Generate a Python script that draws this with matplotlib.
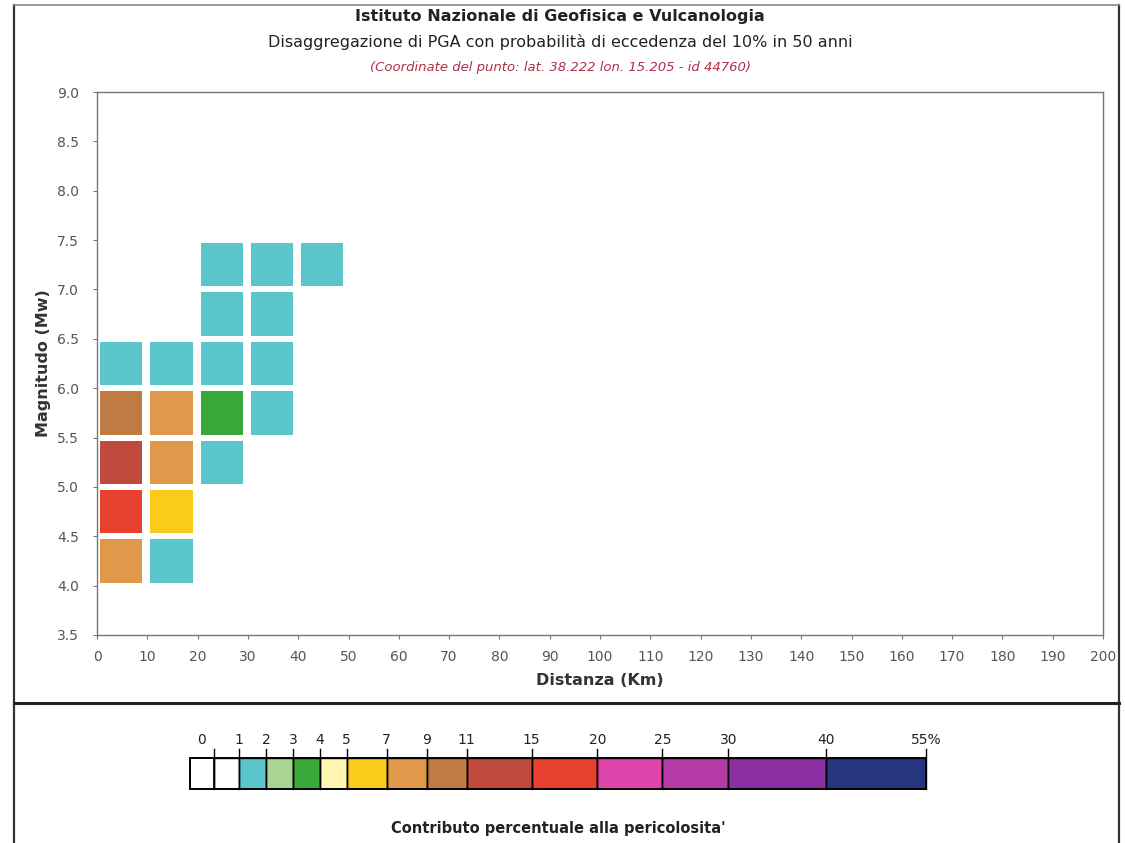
import numpy as np
import matplotlib.pyplot as plt
from matplotlib.colors import ListedColormap, BoundaryNorm
from matplotlib.lines import Line2D
from matplotlib.patches import Rectangle

# disaggregation bins (lower edges)
mag_lower = [4.0, 4.5, 5.0, 5.5, 6.0, 6.5, 7.0]
dist_lower = [0, 10, 20, 30, 40]
# contribution (%) per magnitude row / distance column
contrib = [
    [8.0, 1.6, 0.0, 0.0, 0.0],
    [16.5, 6.0, 0.0, 0.0, 0.0],
    [13.0, 7.8, 1.5, 0.0, 0.0],
    [10.0, 7.5, 3.5, 1.3, 0.0],
    [1.9, 1.7, 1.5, 1.2, 0.0],
    [0.0, 0.0, 1.3, 1.1, 0.0],
    [0.0, 0.0, 1.4, 1.2, 1.0],
]

# colour scale
bounds = [0, 1, 2, 3, 4, 5, 7, 9, 11, 15, 20, 25, 30, 40, 55]
bound_labels = ['0', '1', '2', '3', '4', '5', '7', '9', '11', '15', '20', '25', '30', '40', '55%']
colors = ['#ffffff', '#5ac6cb', '#a8d494', '#38a83a', '#fff6b4', '#fbcb1c',
          '#e0984a', '#c07a42', '#c04a3e', '#e8402e', '#de44aa', '#b43aa6',
          '#8a30a0', '#26357f']
# drawn width of each colour segment in the legend bar
seg_width = [25, 27, 27, 27, 27, 40, 40, 40, 65, 66, 65, 66, 98, 100]
first_box = 24

cmap = ListedColormap(colors)
norm = BoundaryNorm(bounds, cmap.N)

W, H = 1125, 843
fig = plt.figure(figsize=(W / 100, H / 100), dpi=100)
fig.patch.set_facecolor('white')

ax = fig.add_axes([97 / W, 1 - 635 / H, 1006 / W, 543 / H])
for i, m in enumerate(mag_lower):
    for j, d in enumerate(dist_lower):
        v = contrib[i][j]
        if v < 1:
            continue
        ax.bar(d + 0.6, 0.44, width=8.4, bottom=m + 0.03, align='edge',
               color=cmap(norm(v)), linewidth=0)

ax.set_xlim(0, 200)
ax.set_ylim(3.5, 9.0)
ax.set_xticks(np.arange(0, 201, 10))
ax.set_yticks(np.arange(3.5, 9.01, 0.5))
ax.set_yticklabels(['%.1f' % t for t in np.arange(3.5, 9.01, 0.5)])
ax.tick_params(colors='#777777', labelcolor='#555555', labelsize=10, length=3, width=0.8)
ax.tick_params(axis='x', pad=8)
ax.tick_params(axis='y', pad=10)
for s in ax.spines.values():
    s.set_color('#777777')
    s.set_linewidth(1.0)
ax.set_xlabel('Distanza (Km)', fontsize=11.5, fontweight='bold', color='#333333', labelpad=6)
ax.set_ylabel('Magnitudo (Mw)', fontsize=11.5, fontweight='bold', color='#333333', labelpad=4)

# titles
fig.text(560 / W, 1 - 16 / H, 'Istituto Nazionale di Geofisica e Vulcanologia',
         ha='center', va='center', fontsize=11.5, fontweight='bold', color='#222222')
fig.text(560 / W, 1 - 42 / H, 'Disaggregazione di PGA con probabilità di eccedenza del 10% in 50 anni',
         ha='center', va='center', fontsize=11.5, color='#222222')
fig.text(560 / W, 1 - 67 / H, '(Coordinate del punto: lat. 38.222 lon. 15.205 - id 44760)',
         ha='center', va='center', fontsize=9.5, style='italic', color='#b0304a')

# legend bar
cax = fig.add_axes([190 / W, 1 - 789 / H, 736 / W, 31 / H])
total = first_box + sum(seg_width)
cax.set_xlim(0, total)
cax.set_ylim(0, 1)
cax.axis('off')
cax.add_patch(Rectangle((0, 0), first_box, 1, facecolor='white', edgecolor='black', lw=1.2))
pos = [first_box]
for w in seg_width:
    pos.append(pos[-1] + w)
for k, c in enumerate(colors):
    cax.add_patch(Rectangle((pos[k], 0), seg_width[k], 1, facecolor=c,
                            edgecolor='black', lw=1.0))
for k, p in enumerate(pos):
    cax.plot([p, p], [0, 1.3], color='black', lw=1.0, clip_on=False)
    x = p if k > 0 else first_box / 2
    cax.text(x, 1.58, bound_labels[k], ha='center', va='center', fontsize=10,
             color='#222222')
cax.add_patch(Rectangle((0, 0), total, 1, facecolor='none', edgecolor='black', lw=1.4,
                        clip_on=False))

fig.text(558 / W, 1 - 828 / H, "Contributo percentuale alla pericolosita'",
         ha='center', va='center', fontsize=10.5, fontweight='bold', color='#222222')

# outer frame and separator
frame = dict(color='#333333', lw=1.6, transform=fig.transFigure)
fig.add_artist(Line2D([14 / W, 14 / W], [0, 1 - 5 / H], **frame))
fig.add_artist(Line2D([1119 / W, 1119 / W], [0, 1 - 5 / H], **frame))
fig.add_artist(Line2D([14 / W, 1119 / W], [1 - 5 / H, 1 - 5 / H], color='#888888', lw=1.2,
                      transform=fig.transFigure))
fig.add_artist(Line2D([14 / W, 1119 / W], [1 - 703 / H, 1 - 703 / H], color='#222222', lw=2.2,
                      transform=fig.transFigure))

fig.savefig('out.png', dpi=100)
